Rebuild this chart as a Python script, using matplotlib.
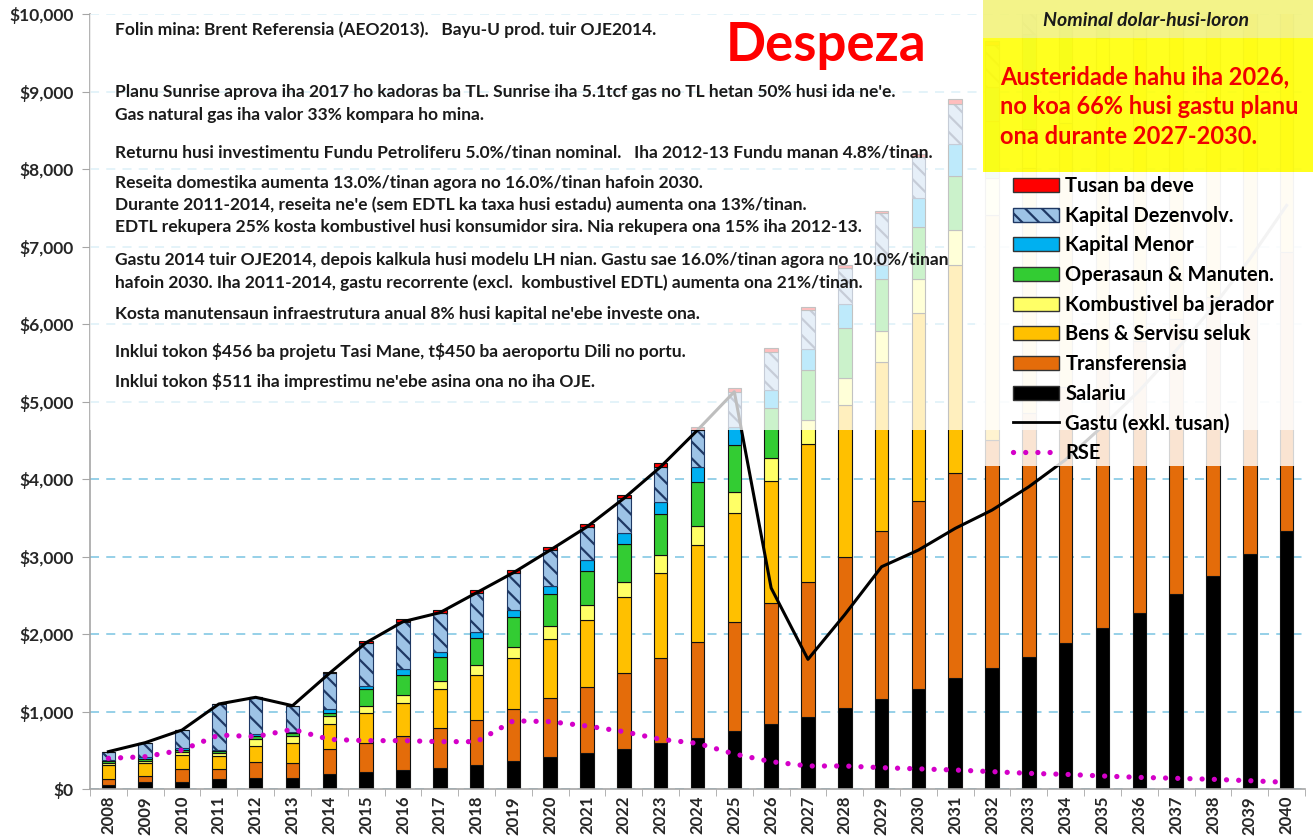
import numpy as np
import matplotlib.pyplot as plt
from matplotlib import font_manager
from matplotlib.patches import Patch, Rectangle
from matplotlib.lines import Line2D

names = {f.name for f in font_manager.fontManager.ttflist}
main_font = 'Lato' if 'Lato' in names else 'DejaVu Sans'
plt.rcParams['font.family'] = [main_font, 'DejaVu Sans']
plt.rcParams['hatch.linewidth'] = 1.6

# %% data (US$ million, nominal)
years = list(range(2008, 2041))

salariu = [52, 95, 95, 125, 138, 146, 189, 215, 245, 275, 310, 361, 409, 469, 516, 589,
           662, 748, 834, 933, 1041, 1157, 1286, 1428, 1557, 1707, 1888, 2073, 2275, 2511,
           2752, 3027, 3328]
transferensia = [77, 77, 159, 129, 206, 185, 323, 383, 439, 508, 580, 667, 761, 851, 976, 1097,
                 1239, 1411, 1570, 1742, 1948, 2171, 2434, 2653, 2950, 3150, 3300, 3400, 3500,
                 3550, 3600, 3600, 3600]
bens = [181, 159, 185, 172, 211, 258, 327, 378, 430, 503, 581, 658, 761, 860, 981, 1105,
        1247, 1397, 1569, 1776, 1965, 2185, 2416, 2679, 2900, 3150, 3400, 3650, 3900, 4150,
        4400, 4650, 4900]
kombustivel = [30, 35, 34, 43, 86, 95, 103, 95, 99, 107, 129, 150, 172, 194, 202, 228,
               245, 280, 293, 309, 352, 400, 439, 451, 480, 510, 540, 570, 600, 630, 660, 690, 720]
operasaun = [15, 17, 30, 21, 43, 34, 43, 215, 258, 306, 344, 379, 413, 443, 486, 524,
             572, 602, 645, 645, 637, 662, 679, 697, 730, 760, 790, 820, 850, 880, 910, 940, 970]
kapital_menor = [19, 26, 22, 13, 26, 22, 43, 43, 73, 73, 86, 94, 103, 137, 146, 164,
                 185, 236, 236, 267, 314, 185, 366, 421, 440, 460, 480, 500, 520, 540, 560, 580, 600]
kapital_dezenv = [108, 189, 236, 594, 473, 335, 464, 559, 615, 503, 503, 482, 464, 430, 443, 451,
                  481, 452, 495, 507, 460, 666, 529, 516, 540, 560, 580, 600, 620, 640, 660, 680, 700]
tusan = [0, 0, 0, 0, 0, 0, 22, 26, 30, 34, 34, 34, 35, 35, 43, 43,
         40, 43, 43, 35, 43, 35, 43, 52, 55, 58, 60, 62, 64, 66, 68, 70, 72]

gastu = [482, 598, 761, 1097, 1183, 1075, 1492, 1888, 2159, 2275, 2533, 2791, 3083, 3384, 3750, 4158,
         4631, 5126, 2594, 1673, 2250, 2868, 3083, 3363, 3599, 3900, 4250, 4680, 5140, 5660,
         6220, 6840, 7530]
rse = [396, 417, 503, 697, 675, 770, 640, 624, 624, 611, 611, 880, 869, 813, 740, 641,
       589, 452, 353, 297, 297, 275, 260, 245, 224, 202, 189, 168, 150, 138, 125, 107, 86]

notes = [
    "Folin mina: Brent Referensia (AEO2013).   Bayu-U prod. tuir OJE2014.",
    "Planu Sunrise aprova iha 2017 ho kadoras ba TL. Sunrise iha 5.1tcf gas no TL hetan 50% husi ida ne'e.",
    "Gas natural gas iha valor 33% kompara ho mina.",
    "Returnu husi investimentu Fundu Petroliferu 5.0%/tinan nominal.   Iha 2012-13 Fundu manan 4.8%/tinan.",
    "Reseita domestika aumenta 13.0%/tinan agora no 16.0%/tinan hafoin 2030.",
    "Durante 2011-2014, reseita ne'e (sem EDTL ka taxa husi estadu) aumenta ona 13%/tinan.",
    "EDTL rekupera 25% kosta kombustivel husi konsumidor sira. Nia rekupera ona 15% iha 2012-13.",
    "Gastu 2014 tuir OJE2014, depois kalkula husi modelu LH nian. Gastu sae 16.0%/tinan agora no 10.0%/tinan",
    "hafoin 2030. Iha 2011-2014, gastu recorrente (excl.  kombustivel EDTL) aumenta ona 21%/tinan.",
    "Kosta manutensaun infraestrutura anual 8% husi kapital ne'ebe investe ona.",
    "Inklui tokon $456 ba projetu Tasi Mane, t$450 ba aeroportu Dili no portu.",
    "Inklui tokon $511 iha imprestimu ne'ebe asina ona no iha OJE.",
]
note_y = [30, 92, 115, 152, 183, 205, 227, 260, 283, 314, 351, 382]

# %% figure
W, H = 1313, 839
fig = plt.figure(figsize=(W / 100, H / 100), dpi=100)
ax = fig.add_axes([90 / W, 1 - 789 / H, (1305 - 90) / W, (789 - 14) / H])


def fxy(x, y):
    # pixel position -> figure fraction
    return x / W, 1 - y / H


layers = [
    (salariu, '#000000', None, 'Salariu'),
    (transferensia, '#E46C0A', None, 'Transferensia'),
    (bens, '#FFC000', None, 'Bens & Servisu seluk'),
    (kombustivel, '#FFFF66', None, 'Kombustivel ba jerador'),
    (operasaun, '#33CC33', None, 'Operasaun & Manuten.'),
    (kapital_menor, '#00B0F0', None, 'Kapital Menor'),
    (kapital_dezenv, '#9DC3E6', '\\\\', 'Kapital Dezenvolv.'),
    (tusan, '#FF0000', None, 'Tusan ba deve'),
]

bottom = np.zeros(len(years))
for vals, col, hatch, lab in layers:
    edge = '#1F3864' if hatch else '#111111'
    ax.bar(years, vals, width=0.37, bottom=bottom, color=col, edgecolor=edge,
           hatch=hatch, linewidth=0.8, zorder=2)
    bottom += np.array(vals)

ax.plot(years, gastu, color='black', lw=2.2, zorder=2.5)
ax.plot(years, rse, color='#D400C8', lw=3.8, linestyle=(0, (0.01, 2.3)),
        dash_capstyle='round', zorder=2.6)

# washed-out projection above the 2024 level
ax.add_patch(Rectangle((2007.5, 4632), 33, 6000, facecolor='white', alpha=0.75,
                       edgecolor='none', zorder=3))

ax.set_xlim(2007.5, 2040.5)
ax.set_ylim(0, 10000)
ax.set_yticks(range(0, 10001, 1000))
ax.set_yticklabels([f'${v:,}' for v in range(0, 10001, 1000)], fontsize=12.5,
                   fontweight='bold', color='#262626')
ax.set_xticks(years)
ax.set_xticklabels([str(y) for y in years], rotation=90, fontsize=12,
                   fontweight='bold', color='#262626')
ax.set_xticks(np.arange(2007.5, 2041, 1), minor=True)
ax.tick_params(axis='x', which='major', length=0, pad=5)
ax.tick_params(axis='x', which='minor', length=5, color='#A6A6A6')
ax.tick_params(axis='y', length=6, color='#A6A6A6', pad=6)
for s in ['top', 'right']:
    ax.spines[s].set_visible(False)
for s in ['left', 'bottom']:
    ax.spines[s].set_color('#A6A6A6')
    ax.spines[s].set_linewidth(1.2)
ax.yaxis.grid(True, color='#8ECDE6', linestyle=(0, (5, 4)), lw=1.3)
ax.set_axisbelow(True)

# boxes on the right
x0, y0 = fxy(983, 172)
fig.patches.append(Rectangle(fxy(975, 466), (W - 975) / W, (466 - 172) / H,
                             transform=fig.transFigure, facecolor='white', alpha=0.82,
                             edgecolor='none', zorder=1))
fig.patches.append(Rectangle((x0, y0), 1 - x0, (172 - 38) / H, transform=fig.transFigure,
                             facecolor='#FFFF00', alpha=0.88, edgecolor='none', zorder=1))
fig.patches.append(Rectangle(fxy(983, 38), 1 - x0, 38 / H, transform=fig.transFigure,
                             facecolor='#F2F27C', alpha=0.9, edgecolor='none', zorder=1))

fig.text(*fxy(1146, 20), 'Nominal dolar-husi-loron', ha='center', va='center', fontsize=14,
         fontweight='bold', fontstyle='italic', color='#1a1a1a', zorder=6)
fig.text(*fxy(1000, 65), 'Austeridade hahu iha 2026,\nno koa 66% husi gastu planu\nona durante 2027-2030.',
         ha='left', va='top', fontsize=17, fontweight='bold', color='#F00000',
         linespacing=1.37, zorder=6)

fig.text(*fxy(826, 45), 'Despeza', ha='center', va='center', fontsize=38,
         fontweight='bold', color='#FF0000', zorder=6)

for s, y in zip(notes, note_y):
    fig.text(*fxy(115, y), s, ha='left', va='center', fontsize=12.5,
             fontweight='bold', color='#1a1a1a', zorder=6, parse_math=False)

# legend
handles = [Patch(facecolor=col, edgecolor='#1F3864' if h else '#333333', hatch=h, lw=1.0)
           for _, col, h, _ in layers[::-1]]
handles += [Line2D([], [], color='black', lw=2.0),
            Line2D([], [], color='#D400C8', lw=3.8, linestyle=(0, (0.01, 2.3)),
                   dash_capstyle='round')]
labels = [lab for *_, lab in layers[::-1]] + ['Gastu (exkl. tusan)', 'RSE']
fig.legend(handles, labels, loc='upper left', bbox_to_anchor=fxy(1013, 176),
           frameon=False, prop={'weight': 'bold', 'size': 14.5}, handlelength=2.3,
           handleheight=0.7, handletextpad=0.3, labelspacing=0.48,
           borderpad=0, borderaxespad=0)

fig.savefig('out.png', dpi=100)
